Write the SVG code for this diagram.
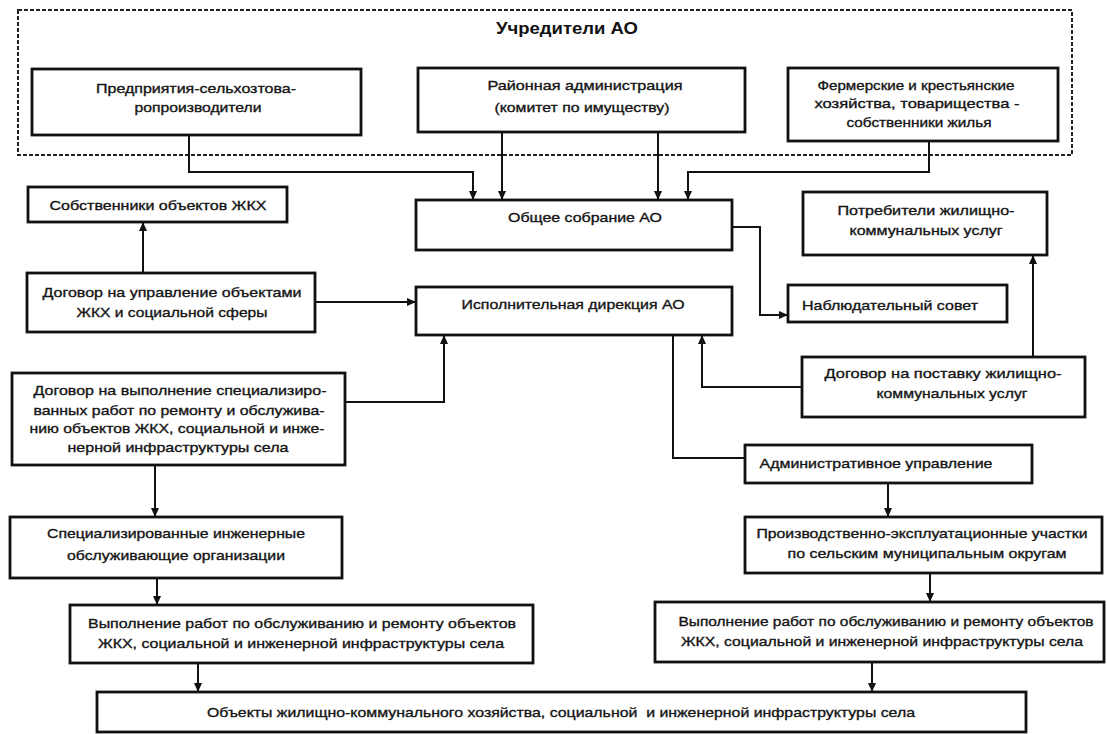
<svg xmlns="http://www.w3.org/2000/svg" width="1107" height="734" viewBox="0 0 1107 734">
  <style>
    .box { fill: #ffffff; stroke: #111111; stroke-width: 2.8; }
    .lbl { font-family: "Liberation Sans", Arial, sans-serif; font-size: 13.5px; fill: #141414; stroke: #141414; stroke-width: 0.35; text-anchor: middle; }
    .title { font-family: "Liberation Sans", Arial, sans-serif; font-size: 17px; font-weight: bold; fill: #111111; text-anchor: middle; }
    .frame { fill: none; stroke: #222222; stroke-width: 2; stroke-dasharray: 4 2; }
    .conn path { fill: none; stroke: #111111; stroke-width: 2; }
  </style>
  <defs>
    <marker id="arrow" markerUnits="userSpaceOnUse" markerWidth="9" markerHeight="8" refX="9" refY="4" orient="auto">
      <path d="M0,0 L9,4 L0,8 z" fill="#111111"/>
    </marker>
  </defs>

  <rect width="1107" height="734" fill="#ffffff"/>

  <!-- founders frame -->
  <g id="founders">
    <rect class="frame" x="18" y="10" width="1054" height="145"/>
    <text class="title" x="567" y="34" textLength="142" lengthAdjust="spacingAndGlyphs">Учредители АО</text>
  </g>

  <!-- connectors -->
  <g id="connectors" class="conn">
    <path d="M189,135 V172 H473 V200" marker-end="url(#arrow)"/>
    <path d="M502,132 V200" marker-end="url(#arrow)"/>
    <path d="M658,132 V200" marker-end="url(#arrow)"/>
    <path d="M929,141 V172 H688 V200" marker-end="url(#arrow)"/>
    <path d="M143,273 V222" marker-end="url(#arrow)"/>
    <path d="M315,302 H416" marker-end="url(#arrow)"/>
    <path d="M345,402 H444 V335" marker-end="url(#arrow)"/>
    <path d="M732,227 H760 V315 H788" marker-end="url(#arrow)"/>
    <path d="M1033,357 V255" marker-end="url(#arrow)"/>
    <path d="M802,387 H702 V335" marker-end="url(#arrow)"/>
    <path d="M673,335 V458 H745"/>
    <path d="M155,465 V517" marker-end="url(#arrow)"/>
    <path d="M157,578 V605" marker-end="url(#arrow)"/>
    <path d="M198,663 V692" marker-end="url(#arrow)"/>
    <path d="M888,483 V517" marker-end="url(#arrow)"/>
    <path d="M930,573 V602" marker-end="url(#arrow)"/>
    <path d="M872,662 V692" marker-end="url(#arrow)"/>
  </g>

  <g id="agri-producers">
    <rect class="box" x="32" y="69" width="329" height="66"/>
    <text class="lbl" x="196" y="93" textLength="200" lengthAdjust="spacingAndGlyphs">Предприятия-сельхозтова-</text>
    <text class="lbl" x="198" y="112" textLength="127" lengthAdjust="spacingAndGlyphs">ропроизводители</text>
  </g>

  <g id="district-admin">
    <rect class="box" x="418" y="68" width="327" height="64"/>
    <text class="lbl" x="585" y="90" textLength="195" lengthAdjust="spacingAndGlyphs">Районная администрация</text>
    <text class="lbl" x="582" y="112" textLength="175" lengthAdjust="spacingAndGlyphs">(комитет по имуществу)</text>
  </g>

  <g id="farms">
    <rect class="box" x="788" y="68" width="270" height="73"/>
    <text class="lbl" x="916" y="90" textLength="197" lengthAdjust="spacingAndGlyphs">Фермерские и крестьянские</text>
    <text class="lbl" x="917" y="108" textLength="205" lengthAdjust="spacingAndGlyphs">хозяйства, товарищества -</text>
    <text class="lbl" x="919" y="127" textLength="145" lengthAdjust="spacingAndGlyphs">собственники жилья</text>
  </g>

  <g id="general-meeting">
    <rect class="box" x="416" y="200" width="316" height="50"/>
    <text class="lbl" x="585" y="222" textLength="154" lengthAdjust="spacingAndGlyphs">Общее собрание АО</text>
  </g>

  <g id="executive">
    <rect class="box" x="416" y="287" width="316" height="48"/>
    <text class="lbl" x="573" y="309" textLength="223" lengthAdjust="spacingAndGlyphs">Исполнительная дирекция АО</text>
  </g>

  <g id="owners">
    <rect class="box" x="28" y="187" width="259" height="35"/>
    <text class="lbl" x="158" y="210" textLength="217" lengthAdjust="spacingAndGlyphs">Собственники объектов ЖКХ</text>
  </g>

  <g id="management-contract">
    <rect class="box" x="27" y="273" width="288" height="59"/>
    <text class="lbl" x="172" y="297" textLength="259" lengthAdjust="spacingAndGlyphs">Договор на управление объектами</text>
    <text class="lbl" x="172" y="317" textLength="191" lengthAdjust="spacingAndGlyphs">ЖКХ и социальной сферы</text>
  </g>

  <g id="service-contract">
    <rect class="box" x="12" y="373" width="333" height="92"/>
    <text class="lbl" x="180" y="395" textLength="293" lengthAdjust="spacingAndGlyphs">Договор на выполнение специализиро-</text>
    <text class="lbl" x="179" y="415" textLength="291" lengthAdjust="spacingAndGlyphs">ванных работ по ремонту и обслужива-</text>
    <text class="lbl" x="177" y="433" textLength="295" lengthAdjust="spacingAndGlyphs">нию объектов ЖКХ, социальной и инже-</text>
    <text class="lbl" x="178" y="452" textLength="221" lengthAdjust="spacingAndGlyphs">нерной инфраструктуры села</text>
  </g>

  <g id="engineering-orgs">
    <rect class="box" x="10" y="517" width="332" height="61"/>
    <text class="lbl" x="176" y="538" textLength="258" lengthAdjust="spacingAndGlyphs">Специализированные инженерные</text>
    <text class="lbl" x="176" y="560" textLength="218" lengthAdjust="spacingAndGlyphs">обслуживающие организации</text>
  </g>

  <g id="works-left">
    <rect class="box" x="70" y="605" width="463" height="58"/>
    <text class="lbl" x="302" y="628" textLength="428" lengthAdjust="spacingAndGlyphs">Выполнение работ по обслуживанию и ремонту объектов</text>
    <text class="lbl" x="301" y="648" textLength="406" lengthAdjust="spacingAndGlyphs">ЖКХ, социальной и инженерной инфраструктуры села</text>
  </g>

  <g id="infrastructure">
    <rect class="box" x="97" y="692" width="929" height="40"/>
    <text class="lbl" x="561" y="717" textLength="708" lengthAdjust="spacingAndGlyphs" xml:space="preserve">Объекты жилищно-коммунального хозяйства, социальной  и инженерной инфраструктуры села</text>
  </g>

  <g id="consumers">
    <rect class="box" x="803" y="192" width="244" height="63"/>
    <text class="lbl" x="926" y="215" textLength="177" lengthAdjust="spacingAndGlyphs">Потребители жилищно-</text>
    <text class="lbl" x="926" y="235" textLength="153" lengthAdjust="spacingAndGlyphs">коммунальных услуг</text>
  </g>

  <g id="supervisory-board">
    <rect class="box" x="788" y="285" width="219" height="37"/>
    <text class="lbl" x="890" y="310" textLength="176" lengthAdjust="spacingAndGlyphs">Наблюдательный совет</text>
  </g>

  <g id="supply-contract">
    <rect class="box" x="802" y="357" width="283" height="60"/>
    <text class="lbl" x="943" y="378" textLength="237" lengthAdjust="spacingAndGlyphs">Договор на поставку жилищно-</text>
    <text class="lbl" x="952" y="398" textLength="151" lengthAdjust="spacingAndGlyphs">коммунальных услуг</text>
  </g>

  <g id="administration">
    <rect class="box" x="745" y="445" width="287" height="38"/>
    <text class="lbl" x="876" y="468" textLength="233" lengthAdjust="spacingAndGlyphs">Административное управление</text>
  </g>

  <g id="operating-sites">
    <rect class="box" x="745" y="517" width="357" height="56"/>
    <text class="lbl" x="922" y="538" textLength="331" lengthAdjust="spacingAndGlyphs">Производственно-эксплуатационные участки</text>
    <text class="lbl" x="927" y="558" textLength="279" lengthAdjust="spacingAndGlyphs">по сельским муниципальным округам</text>
  </g>

  <g id="works-right">
    <rect class="box" x="655" y="602" width="449" height="60"/>
    <text class="lbl" x="886" y="626" textLength="415" lengthAdjust="spacingAndGlyphs">Выполнение работ по обслуживанию и ремонту объектов</text>
    <text class="lbl" x="882" y="646" textLength="402" lengthAdjust="spacingAndGlyphs">ЖКХ, социальной и инженерной инфраструктуры села</text>
  </g>
</svg>
